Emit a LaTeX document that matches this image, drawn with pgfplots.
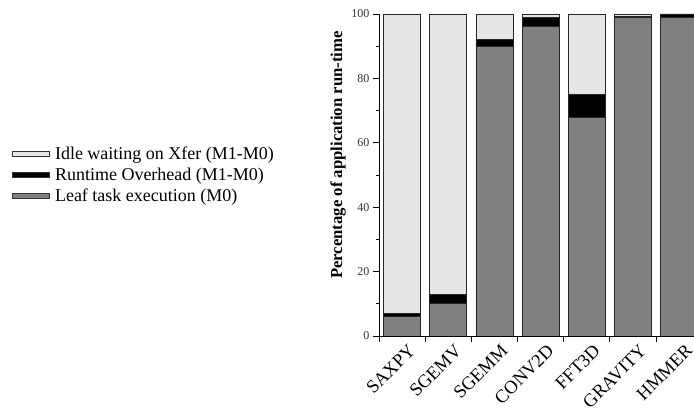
\documentclass[border=0pt]{standalone}
\usepackage{fontspec}
\setmainfont{Liberation Serif}
\usepackage{pgfplots}
\pgfplotsset{compat=1.18}
\definecolor{idle}{HTML}{E6E6E6}
\definecolor{leaf}{HTML}{808080}
\begin{document}
\begin{tikzpicture}
\useasboundingbox (-379pt,-76pt) rectangle (315pt,336pt);
\begin{axis}[
  scale only axis, width=315pt, height=322pt,
  ybar stacked, bar width=0.8,
  xmin=-0.5, xmax=6.322, ymin=0, ymax=100,
  axis x line*=bottom, axis y line*=left,
  axis line style={black, line width=0.8pt},
  tick align=outside,
  ytick={0,20,...,100}, minor ytick={10,30,...,90},
  major tick length=6pt, minor tick length=2.5pt,
  tick style={black, line width=0.8pt},
  /pgf/number format/assume math mode=true,
  yticklabel style={font=\fontsize{12}{14}\selectfont, text=black!80},
  xtick={-0.5,0.5,...,6.5}, xticklabels={},
  extra x ticks={0,1,2,3,4,5,6},
  extra x tick labels={SAXPY,SGEMV,SGEMM,CONV2D,FFT3D,GRAVITY,HMMER},
  extra x tick style={major tick length=0pt, tick label style={rotate=45, anchor=north east, font=\fontsize{18.5}{22}\selectfont, inner sep=2pt, yshift=-7pt, xshift=1pt}},
  ylabel={\textbf{Percentage of application run-time}},
  ylabel style={at={(axis description cs:-0.130,0.562)}, anchor=center, font=\fontsize{16.7}{19}\selectfont},
  reverse legend,
  legend cell align=left,
  legend style={at={(axis description cs:-1.165,0.5)}, anchor=west, draw=none, fill=none,
    font=\fontsize{18}{21}\selectfont, inner sep=0pt, row sep=3pt,
    /tikz/every odd column/.append style={column sep=3pt}},
  legend image code/.code={\draw[#1, draw=black!80, line width=0.8pt] (0pt,-2.5pt) rectangle (37pt,2.5pt);},
  every axis plot/.append style={draw=black!85, line width=0.8pt},
]
\addplot[fill=leaf] coordinates {(0,6) (1,10) (2,90) (3,96) (4,68) (5,99) (6,99)};
\addlegendentry{Leaf task execution (M0)}
\addplot[fill=black] coordinates {(0,1) (1,3) (2,2) (3,3) (4,7) (5,0.1) (6,1)};
\addlegendentry{Runtime Overhead (M1-M0)}
\addplot[fill=idle] coordinates {(0,93) (1,87) (2,8) (3,1) (4,25) (5,0.9) (6,0)};
\addlegendentry{Idle waiting on Xfer (M1-M0)}
\end{axis}
\end{tikzpicture}
\end{document}
